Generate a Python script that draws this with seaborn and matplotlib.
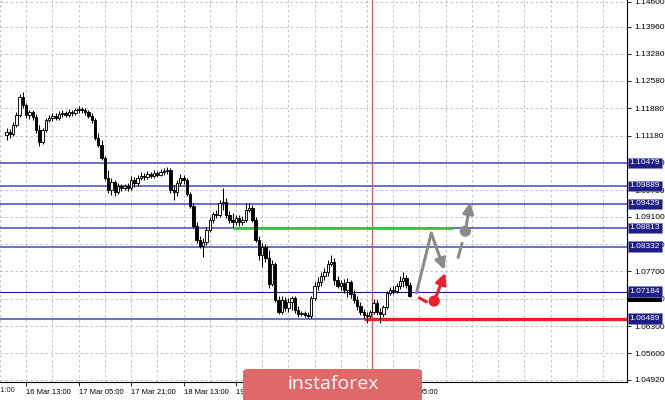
import numpy as np
import pandas as pd
import matplotlib
matplotlib.use("Agg")
import matplotlib.pyplot as plt
import seaborn as sns
from matplotlib.transforms import blended_transform_factory, offset_copy
from matplotlib.patches import FancyBboxPatch

sns.set_style("white")
plt.rcParams['font.family'] = ['Liberation Sans', 'DejaVu Sans']

# ---------------- data (EURUSD H1) ----------------
open_first = 1.1119
closes = [1.1127, 1.1122, 1.1145, 1.1171, 1.1217, 1.1196, 1.1171, 1.1178, 1.1165, 1.1132,
          1.1101, 1.1132, 1.1158, 1.1163, 1.1168, 1.1163, 1.1173, 1.1176, 1.1171, 1.1178,
          1.1176, 1.1183, 1.1186, 1.1183, 1.1178, 1.1168, 1.1158, 1.1112, 1.1094, 1.1060,
          1.1009, 1.0978, 1.0999, 1.0973, 1.0989, 1.0984, 1.0989, 1.0984, 1.1004, 1.0996,
          1.1009, 1.1014, 1.1012, 1.1019, 1.1014, 1.1022, 1.1017, 1.1025, 1.1027, 1.1030,
          1.0978, 1.0973, 1.0996, 1.1009, 1.1004, 1.0968, 1.0938, 1.0886, 1.0850, 1.0835,
          1.0845, 1.0876, 1.0902, 1.0917, 1.0914, 1.0945, 1.0948, 1.0914, 1.0902, 1.0897,
          1.0907, 1.0897, 1.0902, 1.0927, 1.0932, 1.0902, 1.0850, 1.0812, 1.0833, 1.0804,
          1.0738, 1.0789, 1.0697, 1.0666, 1.0697, 1.0676, 1.0692, 1.0702, 1.0671, 1.0661,
          1.0664, 1.0658, 1.0656, 1.0702, 1.0733, 1.0743, 1.0758, 1.0769, 1.0789, 1.0794,
          1.0748, 1.0733, 1.0740, 1.0722, 1.0743, 1.0712, 1.0697, 1.0681, 1.0666, 1.0658,
          1.0656, 1.0666, 1.0689, 1.0666, 1.0661, 1.0679, 1.0715, 1.0722, 1.0720, 1.0733,
          1.0745, 1.0753, 1.0735, 1.0707]
highs = [1.1137, 1.1135, 1.1153, 1.1178, 1.1224, 1.1230, 1.1201, 1.1183, 1.1183, 1.1173,
         1.1145, 1.1137, 1.1163, 1.1171, 1.1176, 1.1176, 1.1181, 1.1183, 1.1181, 1.1186,
         1.1183, 1.1189, 1.1194, 1.1191, 1.1189, 1.1183, 1.1176, 1.1163, 1.1124, 1.1107,
         1.1066, 1.1030, 1.1009, 1.1004, 1.0996, 1.0994, 1.0994, 1.0996, 1.1014, 1.1012,
         1.1017, 1.1025, 1.1022, 1.1027, 1.1025, 1.1030, 1.1027, 1.1032, 1.1035, 1.1037,
         1.1035, 1.0991, 1.1004, 1.1019, 1.1017, 1.1009, 1.0973, 1.0945, 1.0897, 1.0861,
         1.0856, 1.0884, 1.0909, 1.0922, 1.0927, 1.0953, 1.0984, 1.0958, 1.0925, 1.0920,
         1.0914, 1.0914, 1.0912, 1.0945, 1.0945, 1.0940, 1.0909, 1.0861, 1.0843, 1.0840,
         1.0825, 1.0799, 1.0794, 1.0707, 1.0707, 1.0705, 1.0702, 1.0707, 1.0707, 1.0681,
         1.0669, 1.0669, 1.0666, 1.0707, 1.0743, 1.0756, 1.0769, 1.0779, 1.0799, 1.0812,
         1.0804, 1.0758, 1.0748, 1.0751, 1.0753, 1.0748, 1.0722, 1.0707, 1.0692, 1.0674,
         1.0666, 1.0671, 1.0699, 1.0697, 1.0676, 1.0684, 1.0720, 1.0730, 1.0733, 1.0740,
         1.0758, 1.0769, 1.0761, 1.0743]
lows = [1.1107, 1.1112, 1.1117, 1.1140, 1.1165, 1.1189, 1.1163, 1.1160, 1.1158, 1.1124,
        1.1091, 1.1096, 1.1127, 1.1153, 1.1155, 1.1158, 1.1158, 1.1165, 1.1165, 1.1165,
        1.1168, 1.1171, 1.1176, 1.1176, 1.1171, 1.1163, 1.1150, 1.1107, 1.1089, 1.1055,
        1.1004, 1.0971, 1.0966, 1.0963, 1.0968, 1.0976, 1.0978, 1.0976, 1.0978, 1.0986,
        1.0989, 1.1004, 1.1004, 1.1007, 1.1009, 1.1009, 1.1012, 1.1014, 1.1017, 1.1019,
        1.0971, 1.0953, 1.0963, 1.0989, 1.0994, 1.0963, 1.0932, 1.0881, 1.0843, 1.0830,
        1.0807, 1.0838, 1.0871, 1.0894, 1.0907, 1.0909, 1.0927, 1.0907, 1.0894, 1.0884,
        1.0889, 1.0886, 1.0889, 1.0897, 1.0922, 1.0897, 1.0845, 1.0799, 1.0781, 1.0794,
        1.0728, 1.0733, 1.0692, 1.0661, 1.0661, 1.0669, 1.0666, 1.0671, 1.0664, 1.0653,
        1.0656, 1.0653, 1.0651, 1.0651, 1.0697, 1.0722, 1.0733, 1.0748, 1.0758, 1.0784,
        1.0735, 1.0728, 1.0722, 1.0715, 1.0705, 1.0702, 1.0689, 1.0671, 1.0658, 1.0651,
        1.0638, 1.0651, 1.0661, 1.0658, 1.0638, 1.0653, 1.0674, 1.0710, 1.0712, 1.0715,
        1.0725, 1.0730, 1.0728, 1.0705]

price_ticks = [1.14600, 1.13960, 1.13280, 1.12580, 1.11880, 1.11180, 1.10480, 1.09780,
               1.09100, 1.08400, 1.07700, 1.07000, 1.06300, 1.05600, 1.04920]
time_tick_pos = [6, 22, 38, 54, 70, 86, 102, 118]
time_tick_labels = ["16 Mar 13:00", "17 Mar 05:00", "17 Mar 21:00", "18 Mar 13:00",
                    "19 Mar 05:00", "19 Mar 21:00", "20 Mar 13:00", "23 Mar 05:00"]
first_time_pos = -10
first_time_label = "15 Mar 21:00"

blue_levels = [1.10479, 1.09889, 1.09429, 1.08813, 1.08332, 1.06489]
navy_level = 1.07184
current_price = 1.07061
green_level = 1.08813
green_span = [69, 136.3]
red_level = 1.0647
red_start = 109
week_start = 111.5

# forecast arrows (bar index, price)
gray_path = [(125.1, 1.0715), (129.6, 1.0868), (133.6, 1.0774)]
gray_dash = [(137.8, 1.0806), (139.0, 1.0842)]
gray_dot = (140.0, 1.0873)
gray_tip = (141.5, 1.0947)
red_dash = [(126.0, 1.0702), (128.1, 1.0692)]
red_dot = (130.5, 1.0694)
red_tip = (133.9, 1.0766)

# ---------------- figure ----------------
W, H = 665, 400
fig = plt.figure(figsize=(W / 100, H / 100), dpi=100)
fig.patch.set_facecolor("white")
ax = fig.add_axes([0, 18 / H, 627 / W, 382 / H])
ax.set_facecolor("white")

n = len(closes)
opens = [open_first] + closes[:-1]
df = pd.DataFrame({"idx": np.arange(n), "open": opens, "high": highs,
                   "low": lows, "close": closes})
df["high"] = df[["high", "open", "close"]].max(axis=1)
df["low"] = df[["low", "open", "close"]].min(axis=1)

xmin = -2.2 / 3.3
xmax = xmin + 627 / 3.3
ax.set_xlim(xmin, xmax)
ax.set_ylim(1.04868, 1.14651)

# grid
grid_kw = dict(color="#b8b8b8", linestyle=(0, (3, 3)), linewidth=0.6)
ax.set_yticks(price_ticks)
ax.set_yticklabels([f"{v:.5f}" for v in price_ticks])
ax.set_xticks(time_tick_pos)
ax.set_xticklabels(time_tick_labels, ha="left")
minor = [p for p in np.arange(-2, 190, 8) if p not in time_tick_pos]
ax.set_xticks(minor, minor=True)
ax.grid(True, which="both", axis="both", **grid_kw)
ax.set_axisbelow(True)

# level lines
for lv in blue_levels:
    ax.axhline(lv, color="#6e6ec8", lw=1.4, zorder=1.5)
ax.axhline(navy_level, color="#1a1a80", lw=0.8, zorder=1.5)
ax.plot(green_span, [green_level, green_level], color="#33c43c", lw=2.0, zorder=1.6,
        solid_capstyle="butt")
ax.plot([red_start, xmax], [red_level, red_level], color="#e8202a", lw=2.4, zorder=1.6,
        solid_capstyle="butt")
ax.axvline(week_start, color="#e05050", lw=0.8, zorder=1.4)

# candles
ax.vlines(df["idx"], df["low"], df["high"], color="black", lw=0.75, zorder=3)
bull = df[df["close"] >= df["open"]]
bear = df[df["close"] < df["open"]]
ax.bar(bull["idx"], bull["close"] - bull["open"], bottom=bull["open"], width=0.72,
       color="white", edgecolor="black", linewidth=0.65, zorder=4)
ax.bar(bear["idx"], bear["close"] - bear["open"], bottom=bear["open"], width=0.72,
       color="black", edgecolor="black", linewidth=0.65, zorder=4)

# forecast drawings
gray = "#8a8a8a"
red = "#e8202a"
ax.plot([gray_path[0][0], gray_path[1][0]], [gray_path[0][1], gray_path[1][1]],
        color=gray, lw=2.2, zorder=5, solid_capstyle="round")
ax.annotate("", xy=gray_path[2], xytext=gray_path[1],
            arrowprops=dict(arrowstyle="-|>", color=gray, lw=2.2, mutation_scale=16,
                            shrinkA=0, shrinkB=0), zorder=5)
ax.plot([p[0] for p in gray_dash], [p[1] for p in gray_dash], color=gray, lw=2.2,
        zorder=5)
ax.annotate("", xy=gray_tip, xytext=gray_dot,
            arrowprops=dict(arrowstyle="-|>", color=gray, lw=2.2, mutation_scale=16,
                            shrinkA=0, shrinkB=0), zorder=5)
ax.plot([p[0] for p in red_dash], [p[1] for p in red_dash], color=red, lw=2.2, zorder=5)
ax.annotate("", xy=red_tip, xytext=red_dot,
            arrowprops=dict(arrowstyle="-|>", color=red, lw=2.2, mutation_scale=16,
                            shrinkA=0, shrinkB=0), zorder=5)
dots = pd.DataFrame({"x": [gray_dot[0], red_dot[0]], "y": [gray_dot[1], red_dot[1]],
                     "kind": ["gray", "red"]})
sns.scatterplot(data=dots, x="x", y="y", hue="kind", palette={"gray": gray, "red": red},
                s=65, edgecolor="none", legend=False, ax=ax, zorder=6)
ax.set_xlabel("")
ax.set_ylabel("")

# axes styling
for s in ["left", "top"]:
    ax.spines[s].set_visible(False)
for s in ["right", "bottom"]:
    ax.spines[s].set_color("black")
    ax.spines[s].set_linewidth(0.8)
ax.yaxis.tick_right()
ax.tick_params(axis="y", which="major", labelsize=6.0, length=3, width=0.6, pad=2,
               direction="out", colors="black", right=True, left=False)
ax.tick_params(axis="x", which="major", labelsize=5.5, length=3, width=0.6, pad=2,
               direction="out", colors="black", bottom=True)
ax.tick_params(axis="x", which="minor", length=0)

tr_x = offset_copy(blended_transform_factory(ax.transData, ax.transAxes), fig=fig,
                   x=-4, y=0, units="dots")
ax.text(first_time_pos, -0.013, first_time_label, transform=tr_x, ha="left", va="top",
        fontsize=5.5, clip_on=False)

# price labels on the right
tr_y = blended_transform_factory(ax.transAxes, ax.transData)
ax.text(1.004, current_price, f"{current_price:.5f}", transform=tr_y, ha="left",
        va="center", fontsize=6.0, color="white", clip_on=False, zorder=10,
        bbox=dict(boxstyle="square,pad=0.22", fc="black", ec="none"))
for lv in blue_levels + [navy_level]:
    ax.text(1.004, lv, f"{lv:.5f}", transform=tr_y, ha="left", va="center",
            fontsize=6.0, color="white", clip_on=False, zorder=11,
            bbox=dict(boxstyle="square,pad=0.22", fc="#1e1e88", ec="#8080c0", lw=0.4))

# watermark
fig.patches.append(FancyBboxPatch((243 / W, -0.03), 179 / W, 31 / H + 0.03,
                                  boxstyle="round,pad=0,rounding_size=0.008",
                                  transform=fig.transFigure, fc="#e06868", ec="none",
                                  zorder=20))
fig.text(333 / W, 16 / H, "instaforex", ha="center", va="center", color="white",
         fontsize=14, family="Open Sans", zorder=21)

fig.savefig("out.png", dpi=100)
